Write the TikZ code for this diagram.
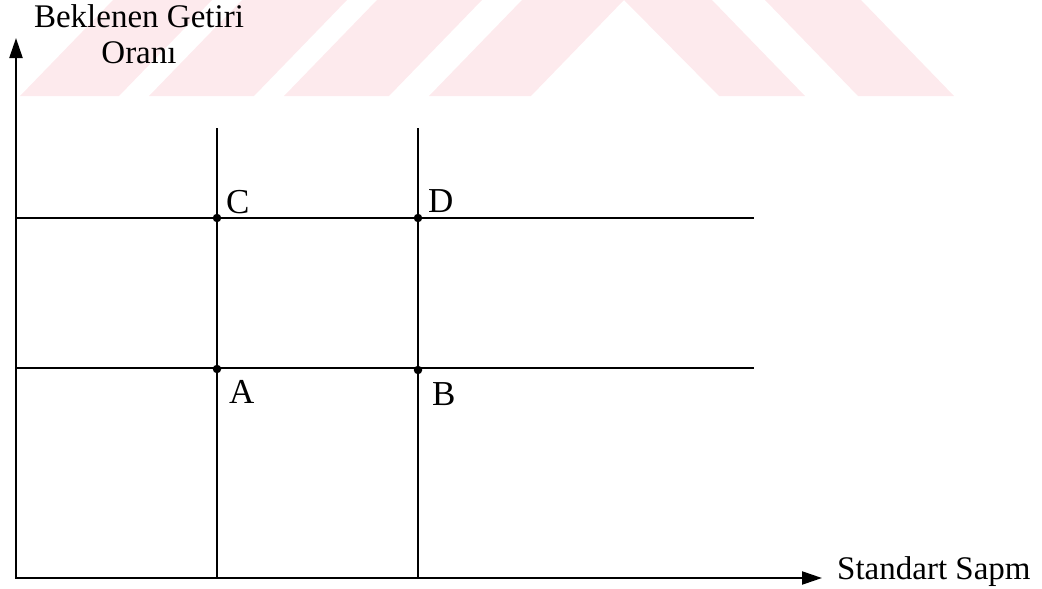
\documentclass[tikz,border=0pt]{standalone}
\usepackage{fontspec}
\setmainfont{Liberation Serif}
\usetikzlibrary{arrows.meta}
\definecolor{wmpink}{RGB}{253,234,237}

\begin{document}
\begin{tikzpicture}[x=1pt,y=-1pt,>={Triangle[length=20pt,width=13pt]},
 wm/.style={fill=wmpink,draw=none},
 axis/.style={line width=2.2pt},
 grid/.style={line width=1.2pt},
 dot/.style={circle,fill=black,inner sep=0pt,minimum size=8.5pt},
 lbl/.style={font=\fontsize{35}{40}\selectfont,anchor=base west,inner sep=0pt},
 ttl/.style={font=\fontsize{33}{36}\selectfont,inner sep=0pt}]
 \useasboundingbox (0,0) rectangle (1042,589);
 % watermark band
 \fill[wm] (20,96) -- (119,96) -- (212,0) -- (113,0) -- cycle;
 \fill[wm] (149,96) -- (254,96) -- (347,0) -- (242,0) -- cycle;
 \fill[wm] (284,96) -- (389,96) -- (482,0) -- (377,0) -- cycle;
 \fill[wm] (429,96) -- (531,96) -- (624,0) -- (522,0) -- cycle;
 \fill[wm] (719,96) -- (805,96) -- (712,0) -- (624,0) -- cycle;
 \fill[wm] (858,96) -- (954,96) -- (861,0) -- (765,0) -- cycle;
 % axes
 \coordinate (O) at (16,578);
 \coordinate (ytip) at (16,38);
 \coordinate (xtip) at (822,578);
 \draw[axis,<->] (ytip) |- (xtip);
 \node[ttl,align=center,anchor=north] (ylab) at (139,4) {Beklenen Getiri\\Oranı};
 \node[ttl,anchor=base west] (xlab) at (837,579) {Standart Sapm};
 % grid lines
 \coordinate (v1top) at (217,128); \coordinate (v1bot) at (217,578);
 \coordinate (v2top) at (418,128); \coordinate (v2bot) at (418,578);
 \coordinate (h1l) at (16,218); \coordinate (h1r) at (754,218);
 \coordinate (h2l) at (16,368); \coordinate (h2r) at (754,368);
 \draw[grid] (v1top) -- (v1bot);
 \draw[grid] (v2top) -- (v2bot);
 \draw[grid] (h1l) -- (h1r);
 \draw[grid] (h2l) -- (h2r);
 % points
 \node[dot] (C) at (217,218) {};
 \node[dot] (D) at (418,218) {};
 \node[dot] (A) at (217,369) {};
 \node[dot] (B) at (418,370) {};
 \node[lbl] (Clab) at (226,213) {C};
 \node[lbl] (Dlab) at (428,212) {D};
 \node[lbl] (Alab) at (229,403) {A};
 \node[lbl] (Blab) at (432,405) {B};
\end{tikzpicture}
\end{document}
